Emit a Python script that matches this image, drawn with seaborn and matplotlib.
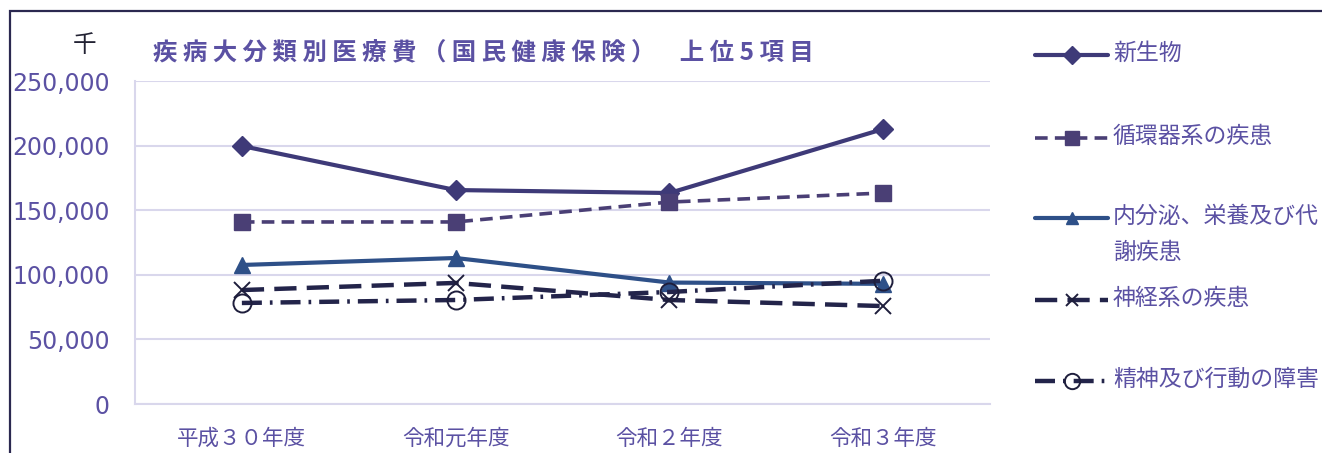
import matplotlib
matplotlib.use("Agg")
import matplotlib.pyplot as plt
import seaborn as sns
from matplotlib.patches import Rectangle

years = ["平成３０年度", "令和元年度", "令和２年度", "令和３年度"]
neoplasm = [199700, 165600, 163300, 212800]
circulatory = [140900, 140900, 156300, 163300]
endocrine = [107600, 113000, 94000, 93000]
nervous = [88200, 93700, 80500, 75800]
mental = [78200, 80500, 86700, 95400]

names = ["新生物", "循環器系の疾患", "内分泌、栄養及び代\n謝疾患", "神経系の疾患", "精神及び行動の障害"]
values = [neoplasm, circulatory, endocrine, nervous, mental]

# line styles per series (Excel-ish look)
styles = [
    dict(color="#3E3A78", lw=3.0, ls="-", marker="D", ms=10.5, mfc="#3E3A78", mec="#3E3A78", mew=1),
    dict(color="#4A3F75", lw=2.6, ls=(0, (3.5, 2)), marker="s", ms=11.5, mfc="#4A3F75", mec="#4A3F75", mew=1),
    dict(color="#2E5088", lw=3.0, ls="-", marker="^", ms=11, mfc="#2E5088", mec="#2E5088", mew=1),
    dict(color="#23244A", lw=3.2, ls=(0, (5, 2.3)), marker="x", ms=11, mfc="none", mec="#1E1E3C", mew=1.4),
    dict(color="#23244A", lw=3.2, ls=(0, (4.5, 1.8, 0.6, 1.8)), marker="o", ms=13, mfc="none", mec="#1E1E3C", mew=1.4),
]

text_col = "#5B51A3"
grid_col = "#D9D7EC"

sns.set_style("white")
plt.rcParams['font.family'] = ['DejaVu Sans', 'Noto Sans CJK JP']

fig = plt.figure(figsize=(13.22, 4.53), dpi=100)
ax = fig.add_axes([135 / 1322, 1 - 404 / 453, (990 - 135) / 1322, (404 - 81) / 453])

for name, vals, st in zip(names, values, styles):
    sns.lineplot(x=years, y=vals, ax=ax, sort=False, color=st["color"], linewidth=st["lw"],
                 linestyle=st["ls"], marker=st["marker"], markersize=st["ms"],
                 markerfacecolor=st["mfc"], markeredgecolor=st["mec"], markeredgewidth=st["mew"])

ax.set_xlim(-0.5, len(years) - 0.5)
ax.set_ylim(0, 250000)
ax.set_yticks(range(0, 250001, 50000))
ax.set_yticklabels([f"{v:,}" for v in range(0, 250001, 50000)], fontsize=17, color=text_col)
ax.set_xticks(range(len(years)))
ax.set_xticklabels(years, fontsize=15.5, color=text_col, family=['Noto Sans CJK JP'])
ax.set_xticks([i - 0.5 for i in range(len(years) + 1)], minor=True)
ax.tick_params(axis="x", which="major", length=0, pad=17)
ax.tick_params(axis="x", which="minor", length=8, width=1.5, color=grid_col, direction="out")
ax.tick_params(axis="y", length=8, width=1.5, color=grid_col, pad=10)
ax.yaxis.grid(True, color=grid_col, linewidth=1.5)
ax.set_axisbelow(True)
for s in ["top", "right"]:
    ax.spines[s].set_visible(False)
for s in ["left", "bottom"]:
    ax.spines[s].set_color(grid_col)
    ax.spines[s].set_linewidth(1.5)
ax.set_xlabel("")
ax.set_ylabel("")

# title and unit
title = "　".join([" ".join("疾病大分類別医療費（国民健康保険）"), " ".join("上位5項目")])
fig.text(153 / 1322, 1 - 52 / 453, title, fontsize=17.6, fontweight="bold", color=text_col,
         va="center", ha="left", family=['Noto Sans CJK JP'])
fig.text(85 / 1322, 1 - 46 / 453, "千", fontsize=17, color="#222233", va="center", ha="center",
         family=['Noto Sans CJK JP'])

# legend drawn in pixel space on the right
lg = fig.add_axes([0, 0, 1, 1], facecolor="none")
lg.set_xlim(0, 1322)
lg.set_ylim(453, 0)
lg.axis("off")
leg_y = [55, 138, 218, 300, 381]
for name, st, yy in zip(names, styles, leg_y):
    lg.plot([1035, 1108], [yy, yy], color=st["color"], linewidth=st["lw"], linestyle=st["ls"])
    lg.plot([1071.5], [yy], linestyle="none", marker=st["marker"], markersize=st["ms"] * 0.85,
            markerfacecolor=st["mfc"], markeredgecolor=st["mec"], markeredgewidth=st["mew"])
    lg.text(1113, yy - 13, name, fontsize=16.5, color=text_col, va="top", ha="left",
            linespacing=1.7, family=['Noto Sans CJK JP'])

# outer frame
fig.patches.append(Rectangle((10 / 1322, -0.1), 1.2, 1 - 11 / 453 + 0.1, transform=fig.transFigure,
                             fill=False, edgecolor="#2B2850", linewidth=1.6))

fig.savefig("out.png", dpi=100)
